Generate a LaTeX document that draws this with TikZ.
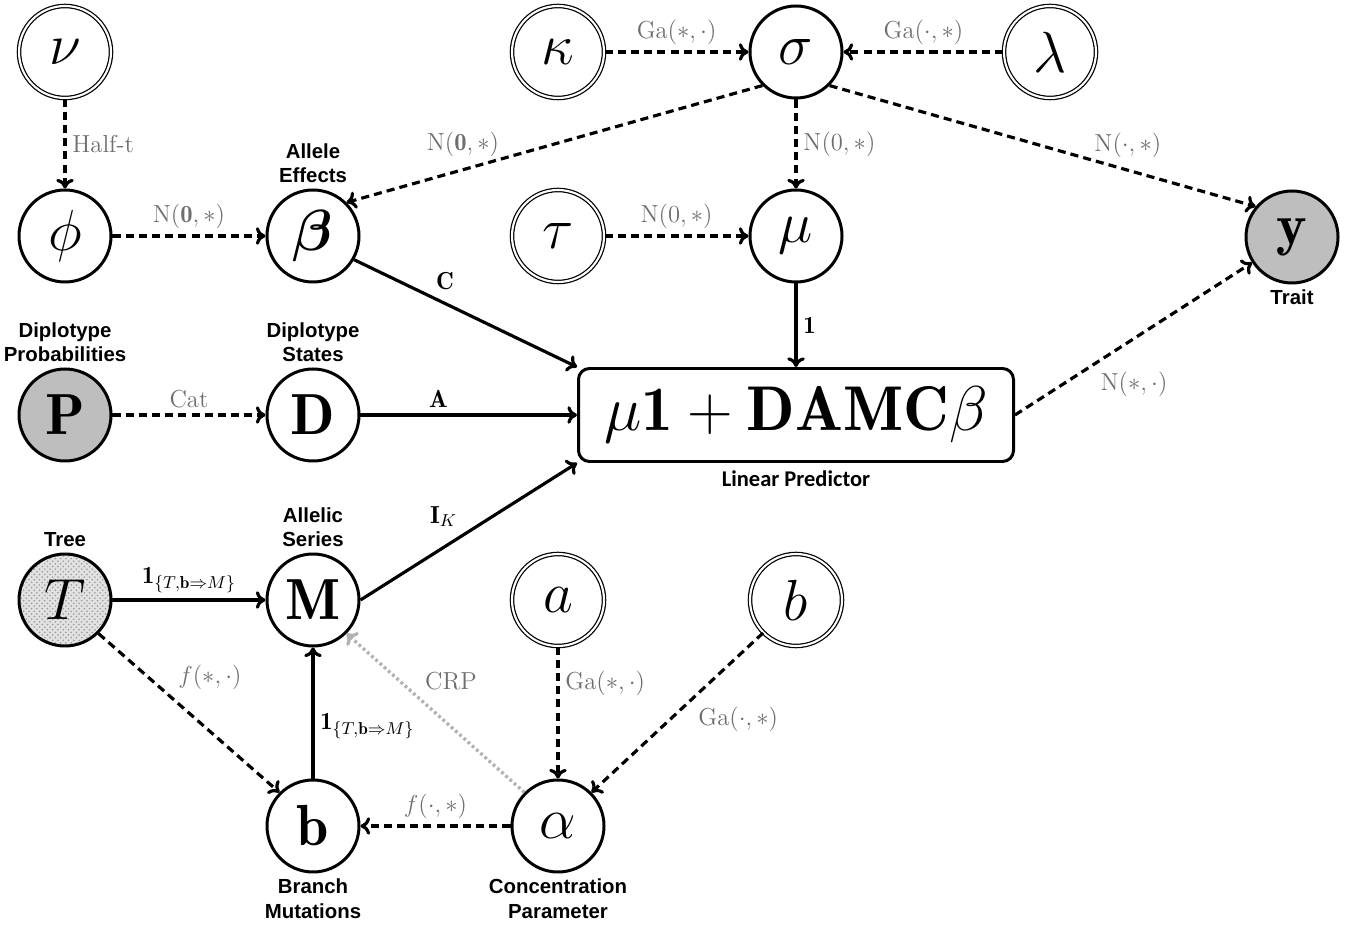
\RequirePackage{fix-cm}
\documentclass[tikz,border=0pt]{standalone}
\usepackage{amsmath, amssymb}
\usepackage{bm}
\usepackage{fontspec}
\usepackage{tikz}
\usetikzlibrary{positioning, arrows.meta, patterns}
\newfontfamily\descfont{Liberation Sans}
\newfontfamily\capfont{Carlito}
\definecolor{ObsGray}{HTML}{BEBEBE}
\definecolor{LabelGray}{HTML}{6E6E6E}
\definecolor{TreeGray}{HTML}{E2E2E2}
\tikzset{
  var/.style={circle, draw=black, line width=1.7pt, minimum size=1.84cm, inner sep=0pt, font=\fontsize{33}{36}\selectfont},
  hyper/.style={var, line width=0.7pt, double, double distance=1.2pt},
  obs/.style={var, fill=ObsGray},
  treevar/.style={var, preaction={fill=TreeGray}, pattern=crosshatch dots, pattern color=black!40},
  lpbox/.style={draw, rounded corners=0.22cm, line width=1.7pt, minimum width=8.7cm, minimum height=1.86cm, inner sep=0pt, font=\fontsize{36}{40}\selectfont},
  desc/.style={font=\descfont\bfseries\fontsize{11.6}{13.8}\selectfont, align=center, inner sep=1pt},
  prior/.style={-{To[length=5.5pt,width=10pt]}, line width=1.8pt, dash pattern=on 4.6pt off 2.9pt},
  link/.style={-{To[length=5.5pt,width=10pt]}, line width=1.8pt},
  crp/.style={-{To[length=5.5pt,width=10pt]}, line width=1.9pt, draw=black!30, dash pattern=on 1.6pt off 1.6pt},
  dist/.style={font=\fontsize{14}{16}\selectfont, text=LabelGray},
  mat/.style={font=\fontsize{14}{16}\selectfont},
}

\begin{document}
\begin{tikzpicture}
    \useasboundingbox (0,0) rectangle (27.08,18.5);

    % hyperparameters and parameters
    \node[hyper] (nu) at (1.30,17.46) {$\nu$};
    \node[var] (phi) at (1.30,13.78) {$\phi$};
    \node[var] (beta) at (6.26,13.78) {$\bm{\beta}$};
    \node[hyper] (kappa) at (11.16,17.46) {$\kappa$};
    \node[var] (sigma) at (15.92,17.46) {$\sigma$};
    \node[hyper] (lambda) at (21.0,17.46) {$\lambda$};
    \node[hyper] (tau) at (11.16,13.78) {$\tau$};
    \node[var] (mu) at (15.92,13.78) {$\mu$};
    \node[obs] (y) at (25.84,13.76) {$\mathbf{y}$};
    \node[obs] (P) at (1.30,10.2) {$\mathbf{P}$};
    \node[var] (D) at (6.26,10.2) {$\mathbf{D}$};
    \node[lpbox] (lp) at (15.92,10.2) {$\mu\mathbf{1}+\mathbf{DAMC}\beta$};
    \node[treevar] (T) at (1.30,6.5) {$T$};
    \node[var] (M) at (6.26,6.5) {$\mathbf{M}$};
    \node[hyper] (a) at (11.16,6.5) {$a$};
    \node[hyper] (bh) at (15.92,6.5) {$b$};
    \node[var] (bvec) at (6.26,1.98) {$\mathbf{b}$};
    \node[var] (alpha) at (11.16,1.98) {$\alpha$};

    % descriptions
    \node[desc, above=2pt of beta] (betadesc) {Allele\\Effects};
    \node[desc, above=2pt of P] (Pdesc) {Diplotype\\Probabilities};
    \node[desc, above=2pt of D] (Ddesc) {Diplotype\\States};
    \node[desc, below=2pt of y] (ydesc) {Trait};
    \node[desc, font=\capfont\bfseries\fontsize{12.8}{14}\selectfont, below=3pt of lp] (lpdesc) {Linear Predictor};
    \node[desc, above=2pt of T] (Tdesc) {Tree};
    \node[desc, above=2pt of M] (Mdesc) {Allelic\\Series};
    \node[desc, below=2pt of bvec] (bdesc) {Branch\\Mutations};
    \node[desc, below=2pt of alpha] (adesc) {Concentration\\Parameter};

    % edges
    \draw[prior] (nu) -- node[dist, right] {Half-t} (phi);
    \draw[prior] (phi) -- node[dist, above] {$\mathrm{N}(\mathbf{0},*)$} (beta);
    \draw[prior] (sigma.225) -- node[dist, pos=0.72, above=3pt] {$\mathrm{N}(\mathbf{0},*)$} (beta.45);
    \draw[prior] (kappa) -- node[dist, above] {$\mathrm{Ga}(*,\cdot)$} (sigma);
    \draw[prior] (lambda) -- node[dist, above] {$\mathrm{Ga}(\cdot,*)$} (sigma);
    \draw[prior] (sigma) -- node[dist, right] {$\mathrm{N}(0,*)$} (mu);
    \draw[prior] (sigma.-45) -- node[dist, pos=0.7, above=3pt] {$\mathrm{N}(\cdot,*)$} (y.140);
    \draw[prior] (tau) -- node[dist, above] {$\mathrm{N}(0,*)$} (mu);
    \draw[link] (beta.-30) -- node[mat, pos=0.34, above right=-1pt] {$\mathbf{C}$} (lp.north west);
    \draw[link] (mu) -- node[mat, right] {$\mathbf{1}$} (lp);
    \draw[link] (D) -- node[mat, pos=0.36, above] {$\mathbf{A}$} (lp);
    \draw[link] (M.east) -- node[mat, pos=0.48, above left=0pt] {$\mathbf{I}_K$} (lp.south west);
    \draw[prior] (lp.east) -- node[dist, pos=0.33, below right] {$\mathrm{N}(*,\cdot)$} (y);
    \draw[prior] (P) -- node[dist, above] {Cat} (D);
    \draw[link] (T) -- node[mat, above] {$\mathbf{1}_{\{T,\mathbf{b}\Rightarrow M\}}$} (M);
    \draw[prior] (T.-45) -- node[dist, pos=0.4, above right] {$f(*,\cdot)$} (bvec.135);
    \draw[link] (bvec) -- node[mat, pos=0.4, right] {$\mathbf{1}_{\{T,\mathbf{b}\Rightarrow M\}}$} (M);
    \draw[crp] (alpha.135) -- node[dist, pos=0.6, above right=0pt] {CRP} (M.-45);
    \draw[prior] (a) -- node[dist, pos=0.28, right] {$\mathrm{Ga}(*,\cdot)$} (alpha);
    \draw[prior] (bh.-135) -- node[dist, pos=0.42, below right] {$\mathrm{Ga}(\cdot,*)$} (alpha.45);
    \draw[prior] (alpha) -- node[dist, above] {$f(\cdot,*)$} (bvec);
\end{tikzpicture}
\end{document}
